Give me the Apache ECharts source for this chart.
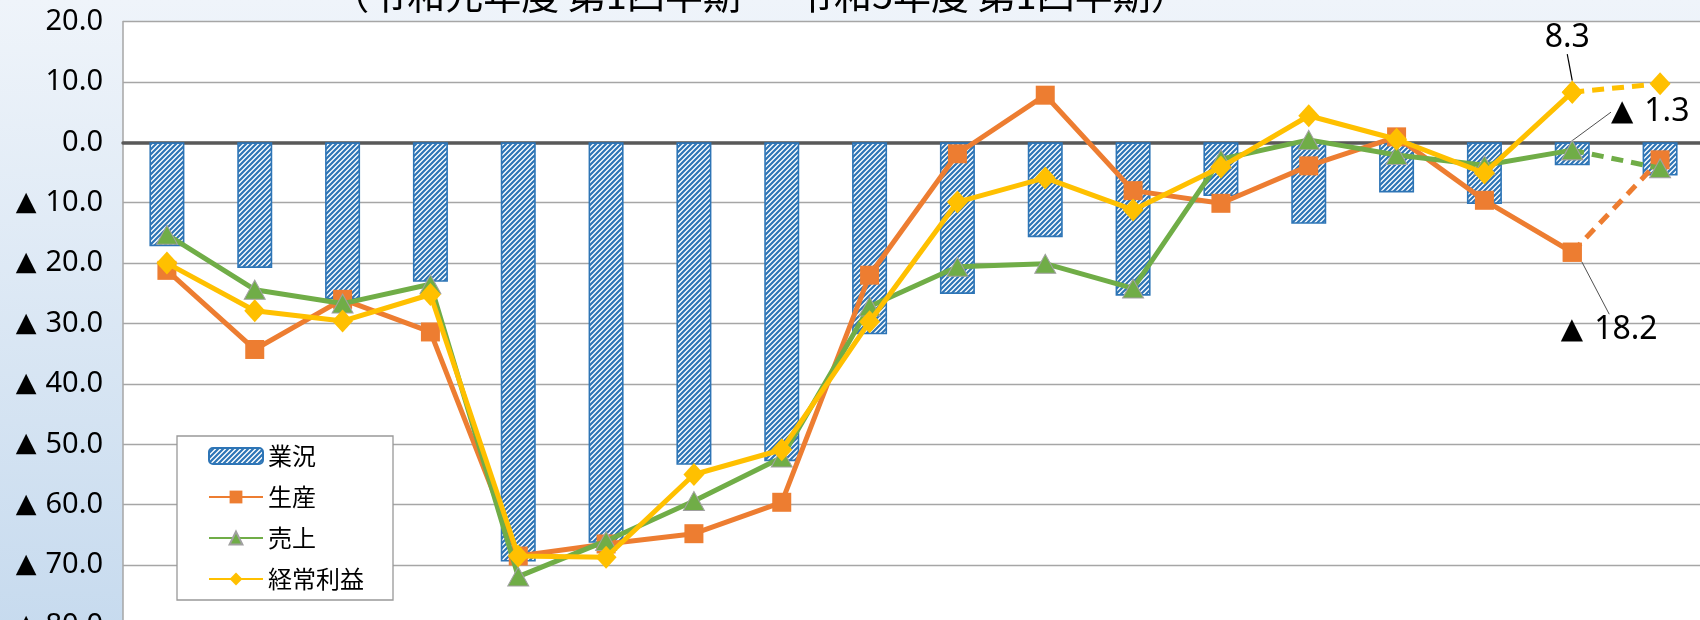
<!DOCTYPE html>
<html><head><meta charset="utf-8">
<script src="https://cdn.jsdelivr.net/npm/echarts@6/dist/echarts.min.js"></script>
<style>
html,body{margin:0;padding:0;overflow:hidden;width:1700px;height:620px;background:#fff;}
#c{width:1712px;height:640px;}
</style></head>
<body><div id="c"></div>
<script>
// ---- data ----
const titleText = '（令和元年度 第1四半期 ～ 令和5年度 第1四半期）';
const categories = ['R1-1Q','R1-2Q','R1-3Q','R1-4Q','R2-1Q','R2-2Q','R2-3Q','R2-4Q','R3-1Q','R3-2Q','R3-3Q','R3-4Q','R4-1Q','R4-2Q','R4-3Q','R4-4Q','R5-1Q','R5-2Q'];
const gyokyo  = [-17.2,-20.8,-26.0,-23.1,-69.4,-66.3,-53.4,-52.8,-31.8,-25.1,-15.7,-25.4,-8.9,-13.5,-8.3,-10.2,-3.8,-5.5];
const seisan  = [-21.2,-34.3,-26.0,-31.4,-68.5,-66.5,-64.8,-59.6,-22.0,-1.9,7.8,-8.0,-10.1,-3.9,0.9,-9.6,-18.2,-2.9];
const uriage  = [-15.3,-24.4,-26.7,-23.5,-71.9,-66.0,-59.4,-52.2,-27.2,-20.6,-20.1,-24.2,-2.8,0.4,-2.1,-3.8,-1.3,-4.3];
const keijo   = [-20.0,-27.9,-29.6,-25.2,-68.5,-68.7,-55.0,-50.9,-29.7,-9.9,-5.9,-11.2,-4.1,4.4,0.5,-5.1,8.3,9.7];
const yTicks  = [20,10,0,-10,-20,-30,-40,-50,-60,-70,-80];
const labelIndex = 16;     // last actual point, labelled
const forecastFrom = 16;   // dashed segment starts here

// ---- helpers ----
function fmtRich(v){ return v < 0 ? '{t|▲}' + Math.abs(v).toFixed(1) : v.toFixed(1); }
const NUMFONT = '"Noto Sans","DejaVu Sans",sans-serif';
const JPFONT = '"Noto Sans CJK JP",sans-serif';
const axisText = {fontSize:29, fontFamily:NUMFONT, color:'#000',
  rich:{t:{fontSize:27, fontFamily:'"DejaVu Sans"', color:'#000', padding:[0,9,0,0]}}};
const labelText = {fontSize:32, fontFamily:NUMFONT, color:'#000',
  rich:{t:{fontSize:29, fontFamily:'"DejaVu Sans"', color:'#000', padding:[0,11,0,0]}}};
function solidPart(arr){ return arr.map((v,i)=> i > forecastFrom ? null : (i===labelIndex ? {value:v, label:Object.assign({show:true}, labelText)} : v)); }
function dashPart(arr){ return arr.map((v,i)=> i >= forecastFrom ? v : null); }
function hatch(){
  const s=5, c=document.createElement('canvas'); c.width=s; c.height=s;
  const g=c.getContext('2d'); g.fillStyle='#ffffff'; g.fillRect(0,0,s,s);
  g.strokeStyle='#2e75b6'; g.lineWidth=2.2; g.beginPath();
  g.moveTo(-1,s+1); g.lineTo(s+1,-1);
  g.moveTo(-1,1); g.lineTo(1,-1);
  g.moveTo(s-1,s+1); g.lineTo(s+1,s-1);
  g.stroke(); return c;
}
const ORANGE='#ed7d31', GREEN='#70ad47', YELLOW='#ffc000', BLUE='#2e75b6';

// label placed relative to its point; leader line points relative to it too
function labelOffset(dx, dy, line){
  return function(p){
    if (p.dataIndex !== labelIndex) return {};
    const cx = p.rect.x + p.rect.width/2, cy = p.rect.y + p.rect.height/2;
    return {x: cx + dx, y: cy + dy, align:'center', verticalAlign:'middle',
      labelLinePoints: line.map(q => [cx + q[0], cy + q[1]])};
  };
}
const dataLabel = Object.assign({show:false, formatter: p => fmtRich(p.value)}, labelText);
const leader = {show:true, lineStyle:{color:'#505050', width:1}};

const chart = echarts.init(document.getElementById('c'), null, {renderer:'canvas'});
chart.setOption({
  animation:false,
  backgroundColor: new echarts.graphic.LinearGradient(0,0,0,1,[{offset:0,color:'#eff4fa'},{offset:1,color:'#c6daee'}]),
  graphic:[{type:'text', style:{text:titleText, x:760, y:14, textAlign:'center', textVerticalAlign:'bottom', font:'38px "Noto Sans CJK JP"', fill:'#000'}}],
  grid:{left:123, top:21.5, width:1581, height:605.6, show:true, backgroundColor:'#ffffff', borderWidth:0, containLabel:false},
  legend:{
    data:['業況','生産','売上','経常利益'], orient:'vertical', left:177, top:436,
    backgroundColor:'#ffffff', borderColor:'#999', borderWidth:1.3,
    padding:[7,29,8,31], itemGap:15, itemWidth:54, itemHeight:16,
    textStyle:{fontSize:24, fontFamily:JPFONT, color:'#000', lineHeight:26}
  },
  xAxis:{type:'category', data:categories, axisLine:{onZero:true, lineStyle:{color:'#595959', width:3.5}}, axisTick:{show:false}, axisLabel:{show:false}},
  yAxis:{type:'value', min:yTicks[yTicks.length-1], max:yTicks[0], interval:yTicks[0]-yTicks[1],
    axisLine:{show:true, lineStyle:{color:'#a6a6a6', width:1.5}}, axisTick:{show:false},
    splitLine:{lineStyle:{color:'#a6a6a6', width:1.4}},
    axisLabel:Object.assign({formatter:fmtRich, margin:20}, axisText)},
  series:[
    {name:'業況', type:'bar', data:gyokyo, barWidth:35, z:1,
      itemStyle:{color:{image:hatch(), repeat:'repeat'}, borderColor:BLUE, borderWidth:1.6}},
    {name:'生産', type:'line', data:solidPart(seisan), symbol:'rect', symbolSize:19, z:3,
      lineStyle:{color:ORANGE, width:5}, itemStyle:{color:ORANGE},
      label:dataLabel, labelLine:leader, labelLayout:labelOffset(37,78,[[37.7,55.7],[0,0]])},
    {name:'売上', type:'line', data:solidPart(uriage), symbol:'triangle', symbolSize:[21,19], z:4,
      lineStyle:{color:GREEN, width:5}, itemStyle:{color:GREEN, borderColor:'#a0a0a0', borderWidth:1},
      label:dataLabel, labelLine:leader, labelLayout:labelOffset(78,-38,[[30,-39.5],[18.7,-39.5],[0,0]])},
    {name:'経常利益', type:'line', data:solidPart(keijo), symbol:'diamond', symbolSize:[21,23], z:5,
      lineStyle:{color:YELLOW, width:5}, itemStyle:{color:YELLOW},
      label:dataLabel, labelLine:{show:true, lineStyle:{color:'#000', width:1.2}}, labelLayout:labelOffset(-5,-54,[[-6,-34],[0,0]])},
    {name:'生産見込', type:'line', data:dashPart(seisan), symbol:'rect', symbolSize:19, z:3,
      lineStyle:{color:ORANGE, width:5, type:[12,8]}, itemStyle:{color:ORANGE}},
    {name:'売上見込', type:'line', data:dashPart(uriage), symbol:'triangle', symbolSize:[21,19], z:4,
      lineStyle:{color:GREEN, width:5, type:[12,8]}, itemStyle:{color:GREEN, borderColor:'#a0a0a0', borderWidth:1}},
    {name:'経常利益見込', type:'line', data:dashPart(keijo), symbol:'diamond', symbolSize:[21,23], z:5,
      lineStyle:{color:YELLOW, width:5, type:[12,8]}, itemStyle:{color:YELLOW}}
  ]
});
</script>
</body></html>
